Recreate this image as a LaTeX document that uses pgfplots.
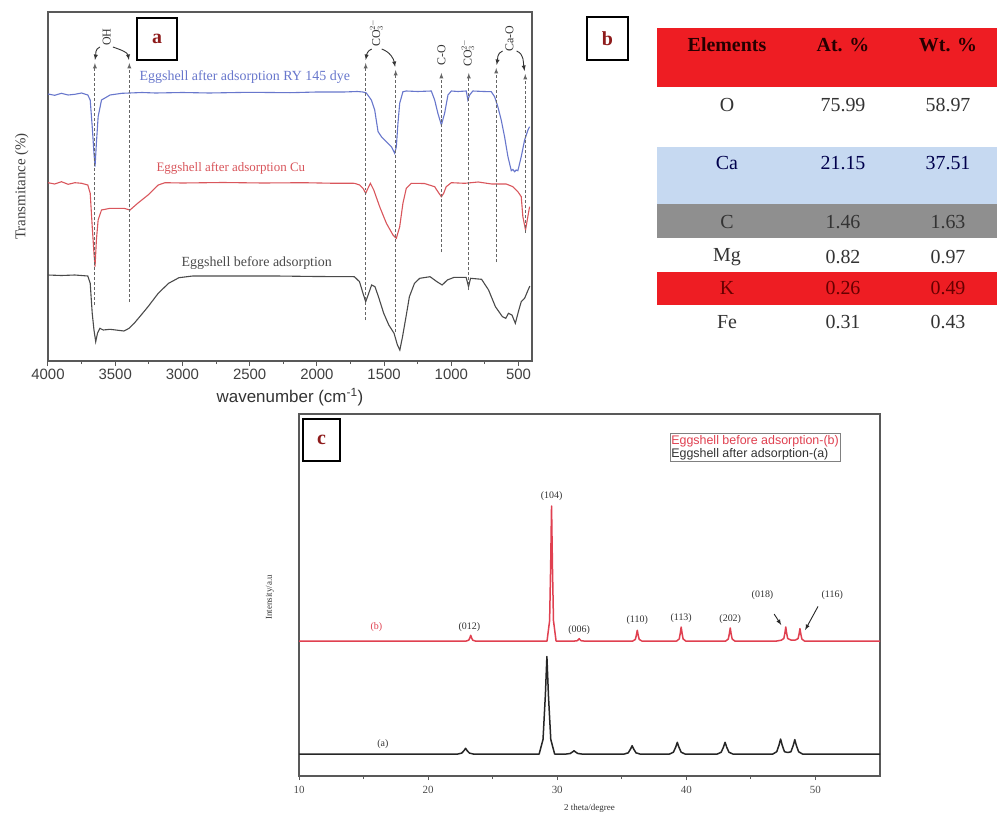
\documentclass[border=0pt]{standalone}
\usepackage{fontspec}
\setmainfont{Liberation Serif}
\newfontfamily\sansf{Liberation Sans}
\usepackage{pgfplots}
\pgfplotsset{compat=1.18}
\definecolor{cblue}{HTML}{6877CC}
\definecolor{cred}{HTML}{D9565C}
\definecolor{cblk}{HTML}{4A4A4A}
\definecolor{tred}{HTML}{EE1D23}
\definecolor{tblue}{HTML}{C6D9F1}
\definecolor{tgray}{HTML}{8F8F8F}
\definecolor{lblred}{HTML}{8E1B1B}
\definecolor{xred}{HTML}{E04050}
\newcommand{\fs}[1]{\fontsize{#1}{#1}\selectfont}
\begin{document}
\begin{tikzpicture}[x=1bp,y=1bp]
\useasboundingbox (0,0) rectangle (997,-813);
\fill[white] (0,0) rectangle (997,-813);

% ---------------- panel a ----------------
\begin{axis}[at={(48bp,-361bp)}, anchor=south west, scale only axis,
  width=484bp, height=349bp,
  x dir=reverse, xmin=400, xmax=4000, ymin=0, ymax=349,
  ytick=\empty, xtick={500,1000,...,4000}, minor x tick num=1,
  tick align=outside, xtick pos=left,
  major tick length=5bp, minor tick length=3bp,
  axis line style={draw=black!65, line width=1.1bp},
  tick style={black!65, line width=1bp},
  tick label style={font=\sansf\fs{15}, text=black!75},
  /pgf/number format/assume math mode=true, /pgf/number format/1000 sep={},
  xlabel={wavenumber (cm\textsuperscript{-1})},
  xlabel style={font=\sansf\fs{17}, text=black!80, at={(axis description cs:0.5,-0.103)}, anchor=center},
  ylabel={Transmitance (\%)},
  ylabel style={font=\fs{15}, text=black!75, at={(axis description cs:-0.054,0.5)}, anchor=center},
  clip=false]
\addplot[cblue, line width=1.1bp] coordinates {
(4000,267)(3950,265.7)(3900,267.7)(3850,266)(3800,266.7)(3750,268)(3704,266)(3686,261)(3671,234.3)(3658,207.7)(3650,194.3)(3640,217.7)(3627,244.3)(3602,261)(3538,266)(3450,267.7)(3300,268.5)(3200,268)(3000,268.5)(2800,268)(2500,268.7)(2200,268.3)(2000,269)(1800,269)(1700,269.5)(1657,269)(1632,268)(1595,261)(1570,251)(1545,229.3)(1520,224.3)(1483,219.3)(1446,214.3)(1421,207.7)(1409,214.3)(1397,237.7)(1384,257.7)(1360,269.3)(1335,270)(1250,269.5)(1149,270)(1124,261)(1100,247.7)(1074,236)(1050,247.7)(1025,266)(1000,270)(950,269.5)(889,270)(877,261)(864,266)(840,270)(760,269.5)(703,269.3)(678,264.3)(654,254.3)(629,241)(604,224.3)(579,204.3)(554,190.3)(542,191.5)(530,189.3)(517,191)(505,190.3)(480,204.3)(455,221)(430,231)(418,234.3)};
\addplot[cred, line width=1.1bp] coordinates {
(4000,178.3)(3950,177)(3900,179.3)(3850,176.7)(3800,178.3)(3750,177.7)(3704,176)(3686,167.7)(3671,134.3)(3658,107.7)(3650,94.3)(3640,121)(3627,141)(3602,151)(3538,152.7)(3435,152.7)(3390,151)(3333,157.7)(3256,166)(3180,176)(3129,178.3)(3000,178)(2700,178.5)(2400,178)(2100,178.3)(1900,177.8)(1721,177.7)(1682,176)(1657,172.7)(1637,167.7)(1620,172.7)(1602,177.7)(1577,171)(1533,154.3)(1483,137.7)(1434,126)(1409,122.7)(1384,134.3)(1360,157.7)(1335,172.7)(1297,177.7)(1200,177.5)(1124,174.3)(1100,169.3)(1074,164.3)(1057,167.7)(1038,174.3)(1000,178.3)(900,177.7)(800,179)(700,177)(592,177)(542,174.3)(505,169.3)(480,164.3)(468,144.3)(448,131)(431,144.3)(418,154.3)};
\addplot[cblk, line width=1.1bp] coordinates {
(4000,86)(3900,85.5)(3800,86)(3704,85)(3686,77.7)(3671,47.7)(3658,31)(3645,19.3)(3632,27.7)(3614,32.7)(3589,31)(3538,31.7)(3435,30)(3397,32.7)(3359,37.7)(3307,46)(3256,54.3)(3180,67.7)(3103,77.7)(3026,83.3)(2924,85)(2600,85)(2300,85)(2000,84.5)(1721,84.3)(1683,79.3)(1657,67.7)(1637,59.3)(1619,66)(1593,76)(1568,74.3)(1542,64.3)(1503,47.7)(1465,36)(1426,27.7)(1401,16)(1383,11)(1363,24.3)(1337,44.3)(1312,64.3)(1274,77.7)(1235,82.7)(1158,84.3)(1107,79.3)(1068,76)(1030,81)(979,83.7)(890,83.7)(872,74.3)(857,82.7)(775,81.7)(723,71)(672,54.3)(620,44.3)(595,42.7)(575,47.7)(549,46)(524,37.7)(498,51)(480,59.3)(455,62.7)(429,71)(416,75)};
% dashed guide lines
\begin{scope}[black!60, densely dashed, line width=0.9bp]
\draw[-latex] (axis cs:3651,56) -- (axis cs:3651,298);
\draw[-latex] (axis cs:3395,59) -- (axis cs:3395,298);
\draw[-latex] (axis cs:1637,41) -- (axis cs:1637,298);
\draw[-latex] (axis cs:1414,29) -- (axis cs:1414,291);
\draw[-latex] (axis cs:1074,109) -- (axis cs:1074,288);
\draw[-latex] (axis cs:870,71) -- (axis cs:870,288);
\draw[-latex] (axis cs:666,99) -- (axis cs:666,293);
\draw[-latex] (axis cs:450,128) -- (axis cs:450,287);
\end{scope}
\begin{scope}[black!80, line width=0.9bp]
\draw[-latex] (axis cs:3614,314) to[out=200,in=80] (axis cs:3651,301);
\draw[-latex] (axis cs:3517,314) to[out=-20,in=100] (axis cs:3398,301);
\draw[-latex] (axis cs:1592,312) to[out=200,in=80] (axis cs:1637,301);
\draw[-latex] (axis cs:1518,312) to[out=-20,in=100] (axis cs:1418,294);
\draw[-latex] (axis cs:619,310) to[out=200,in=80] (axis cs:663,296);
\draw[-latex] (axis cs:515,310) to[out=-20,in=100] (axis cs:455,290);
\end{scope}
\node[rotate=90, font=\fs{12}, text=black!80] at (axis cs:3564,324) {OH};
\node[rotate=90, font=\fs{12}, text=black!80] at (axis cs:1557,328) {CO$_3^{2-}$};
\node[rotate=90, font=\fs{12}, text=black!80] at (axis cs:1074,306) {C-O};
\node[rotate=90, font=\fs{12}, text=black!80] at (axis cs:877,308) {CO$_3^{2-}$};
\node[rotate=90, font=\fs{12}, text=black!80] at (axis cs:567,322) {Ca-O};
\node[text=cblue, font=\fs{14}] at (axis cs:2536,284) {Eggshell after adsorption RY 145 dye};
\node[text=cred, font=\fs{13}] at (axis cs:2640,193) {Eggshell after adsorption Cu};
\node[text=cblk, font=\fs{14}] at (axis cs:2447,98) {Eggshell before adsorption};
\end{axis}

% ---------------- panel c ----------------
\begin{axis}[at={(299bp,-776bp)}, anchor=south west, scale only axis,
  width=581bp, height=362bp,
  xmin=10, xmax=55, ymin=0, ymax=362,
  ytick=\empty, xtick={10,20,...,50}, minor x tick num=1,
  tick align=outside, xtick pos=left,
  major tick length=4bp, minor tick length=3bp,
  axis line style={draw=black!65, line width=1.2bp},
  tick style={black!65, line width=1bp},
  tick label style={font=\fs{11}, text=black!70, yshift=-3bp},
  /pgf/number format/assume math mode=true,
  xlabel={2 theta/degree},
  xlabel style={font=\fs{9}, text=black!80, at={(axis description cs:0.5,-0.088)}, anchor=center},
  ylabel={Intensity/a.u},
  ylabel style={font=\fs{9}, text=black!80, at={(axis description cs:-0.05,0.494)}, anchor=center},
  clip=false]
\addplot[xred, line width=1.5bp, line join=round] coordinates {
(10,135)(22.95,135)(23.15,135.9)(23.23,138.1)(23.3,140.7)(23.37,138.1)(23.45,135.9)(23.65,135)(29.21,135)(29.41,155.3)(29.49,209.3)(29.56,270)(29.63,209.3)(29.71,155.3)(29.91,135)(31.35,135)(31.55,135.3)(31.63,136.3)(31.7,137.3)(31.77,136.3)(31.85,135.3)(32.05,135)(35.85,135)(36.05,136.6)(36.13,140.9)(36.2,145.7)(36.27,140.9)(36.35,136.6)(36.55,135)(39.25,135)(39.45,137.1)(39.53,142.7)(39.6,149)(39.67,142.7)(39.75,137.1)(39.95,135)(43.05,135)(43.25,137)(43.33,142.2)(43.4,148)(43.47,142.2)(43.55,137)(43.75,135)(47.0,135)(47.35,135.8)(47.55,137.5)(47.63,142.7)(47.7,149)(47.77,142.7)(47.85,137.5)(48.1,136)(48.45,136)(48.65,137.4)(48.73,141.8)(48.8,147.4)(48.87,141.8)(48.95,136.9)(49.15,135)(55,135)};
\addplot[black!85, line width=1.5bp, line join=round] coordinates {
(10,22)(22.3,22)(22.6,22.9)(22.78,25.4)(22.9,27.7)(23.02,25.4)(23.2,22.9)(23.5,22)(28.6,22)(28.9,36.6)(29.08,80.5)(29.2,119.5)(29.32,80.5)(29.5,36.6)(29.8,22)(30.7,22)(31.0,22.5)(31.18,24)(31.3,25.3)(31.42,24)(31.6,22.5)(31.9,22)(35.2,22)(35.5,23.2)(35.68,27)(35.8,30.3)(35.92,27)(36.1,23.2)(36.4,22)(38.7,22)(39.0,23.8)(39.18,29)(39.3,33.7)(39.42,29)(39.6,23.8)(39.9,22)(42.4,22)(42.7,23.8)(42.88,29)(43.0,33.7)(43.12,29)(43.3,23.8)(43.6,22)(46.7,22)(47.0,24.3)(47.18,31)(47.3,37)(47.42,31)(47.6,24.3)(47.85,23.5)(48.1,24.2)(48.28,30.6)(48.4,36.4)(48.52,30.6)(48.7,24.2)(49.0,22)(55,22)};
\begin{scope}[font=\fs{10}, text=black!80]
\node at (axis cs:23.2,149) {(012)};
\node at (axis cs:29.56,280) {(104)};
\node at (axis cs:31.7,146) {(006)};
\node at (axis cs:36.2,155.6) {(110)};
\node at (axis cs:39.6,158) {(113)};
\node at (axis cs:43.4,157) {(202)};
\node at (axis cs:45.9,180.6) {(018)};
\node at (axis cs:51.3,180.6) {(116)};
\node[text=xred] at (axis cs:16.0,149) {(b)};
\node at (axis cs:16.5,32) {(a)};
\end{scope}
\draw[-latex, black!85, line width=0.9bp] (axis cs:46.8,162) -- (axis cs:47.35,151);
\draw[-latex, black!85, line width=0.9bp] (axis cs:50.2,169.6) -- (axis cs:49.2,146);
\node[draw=black!50, fill=white, align=left, inner sep=1.5bp, font=\sansf\fontsize{12.5}{13.5}\selectfont] at (axis cs:45.32,328.5)
  {\textcolor{xred}{Eggshell before adsorption-(b)}\\\textcolor{black!80}{Eggshell after adsorption-(a)}};
\end{axis}

% ---------------- panel labels ----------------
\node[draw=black, line width=2.5bp, fill=white, minimum width=40bp, minimum height=42bp, inner sep=0pt, font=\bfseries\fs{20}, text=lblred] at (157,-39) {a};
\node[draw=black, line width=2.5bp, fill=white, minimum width=41bp, minimum height=43bp, inner sep=0pt, font=\bfseries\fs{20}, text=lblred] at (607.5,-38.5) {b};
\node[draw=black, line width=2.5bp, fill=white, minimum width=37bp, minimum height=42bp, inner sep=0pt, font=\bfseries\fs{20}, text=lblred] at (321.5,-440) {c};

% ---------------- panel b table ----------------
\fill[tred] (657,-28) rectangle (997,-87);
\fill[tblue] (657,-147) rectangle (997,-204);
\fill[tgray] (657,-204) rectangle (997,-238);
\fill[tred] (657,-272) rectangle (997,-305);
\begin{scope}[font=\bfseries\fs{20}, text=black!85!red]
\node at (727,-45) {Elements};
\node at (843,-45) {At. \%};
\node at (948,-45) {Wt. \%};
\end{scope}
\begin{scope}[font=\fs{20}, text=black!80]
\node at (727,-105) {O};   \node at (843,-105) {75.99}; \node at (948,-105) {58.97};
\node[text=blue!30!black] at (727,-163) {Ca};  \node[text=blue!30!black] at (843,-163) {21.15}; \node[text=blue!30!black] at (948,-163) {37.51};
\node at (727,-222) {C};   \node at (843,-222) {1.46};  \node at (948,-222) {1.63};
\node at (727,-257) {Mg};  \node at (843,-257) {0.82};  \node at (948,-257) {0.97};
\node[text=red!40!black] at (727,-288) {K};   \node[text=red!40!black] at (843,-288) {0.26};  \node[text=red!40!black] at (948,-288) {0.49};
\node at (727,-322) {Fe};  \node at (843,-322) {0.31};  \node at (948,-322) {0.43};
\end{scope}
\end{tikzpicture}
\end{document}
